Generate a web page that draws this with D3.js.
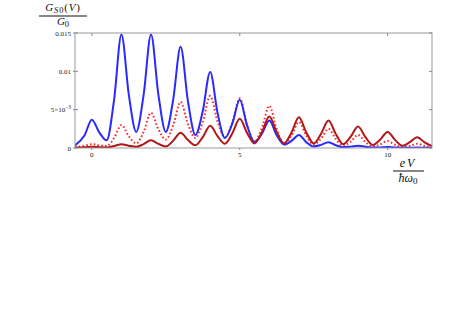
<!DOCTYPE html>
<html>
<head>
<meta charset="utf-8">
<script src="https://cdn.jsdelivr.net/npm/d3@7"></script>
<style>
  body { margin: 0; background: #fff; }
  svg { display: block; }
  text { font-family: "Liberation Serif", "DejaVu Serif", serif; }
</style>
</head>
<body>
<div id="chart"></div>
<script>
// sample positions along eV/ħω0
const xs = [-0.57, -0.25, 0, 0.25, 0.5, 0.75, 1, 1.25, 1.5, 1.75, 2, 2.25, 2.5, 2.75, 3, 3.25,
  3.5, 3.75, 4, 4.25, 4.5, 4.75, 5, 5.25, 5.5, 5.75, 6, 6.25, 6.5, 6.75, 7, 7.25,
  7.5, 7.75, 8, 8.25, 8.5, 8.75, 9, 9.25, 9.5, 9.75, 10, 10.25, 10.5, 10.75, 11, 11.25, 11.5];

// G_S0(V)/G0, in units of 1e-3
const blue = [0.35, 1.62, 3.7, 2.03, 1.0, 6.24, 14.8, 6.93, 2.1, 6.93, 14.8, 6.93, 2.1, 6.32, 13.2, 6.07,
  1.7, 4.82, 9.9, 4.57, 1.3, 3.2, 6.3, 2.89, 0.8, 1.86, 3.6, 1.65, 0.45, 0.93, 1.7, 0.77,
  0.2, 0.41, 0.75, 0.35, 0.1, 0.18, 0.3, 0.15, 0.05, 0.08, 0.12, 0.06, 0.03, 0.04, 0.05, 0.03, 0.02];

const redDotted = [0.15, 0.28, 0.5, 0.35, 0.25, 1.3, 3.0, 1.51, 0.6, 2.12, 4.6, 2.43, 1.1, 2.96, 6.0, 3.09,
  1.3, 3.39, 6.8, 3.45, 1.4, 3.34, 6.5, 3.0, 0.85, 2.62, 5.5, 2.43, 0.55, 1.63, 3.4, 1.57,
  0.45, 1.23, 2.5, 1.14, 0.3, 0.83, 1.7, 0.77, 0.2, 0.47, 0.9, 0.42, 0.12, 0.28, 0.55, 0.26, 0.08];

const darkRed = [0.05, 0.09, 0.15, 0.11, 0.08, 0.26, 0.5, 0.3, 0.15, 0.51, 1.0, 0.54, 0.2, 0.96, 2.0, 1.04,
  0.35, 1.42, 2.9, 1.54, 0.55, 1.92, 3.8, 1.94, 0.6, 2.07, 4.1, 2.07, 0.6, 2.03, 4.0, 2.03,
  0.6, 1.86, 3.6, 1.8, 0.5, 1.47, 2.8, 1.41, 0.4, 1.11, 2.1, 1.06, 0.3, 0.76, 1.4, 0.73, 0.25];

const xTicks = [0, 5, 10];
const yTicks = [0, 0.005, 0.01, 0.015];

const W = 469, H = 327;
const fLeft = 75, fRight = 432, fTop = 33, fBottom = 148;

const svg = d3.select("#chart").append("svg")
  .attr("width", W).attr("height", H);

const x = d3.scaleLinear().domain([-0.57, 11.5]).range([fLeft, fRight]);
const y = d3.scaleLinear().domain([0, 0.015]).range([fBottom, fTop]);

// clip so curves stay in the frame
svg.append("clipPath").attr("id", "clip")
  .append("rect").attr("x", fLeft).attr("y", fTop - 2)
  .attr("width", fRight - fLeft).attr("height", fBottom - fTop + 2);

const line = d3.line()
  .x((d, i) => x(xs[i]))
  .y(d => y(d * 1e-3))
  .curve(d3.curveMonotoneX);

const plot = svg.append("g").attr("clip-path", "url(#clip)");

plot.append("path").datum(redDotted)
  .attr("d", line).attr("fill", "none")
  .attr("stroke", "#ff2a2a").attr("stroke-width", 2)
  .attr("stroke-dasharray", "1.6,2.2");

plot.append("path").datum(blue)
  .attr("d", line).attr("fill", "none")
  .attr("stroke", "#2a2aff").attr("stroke-width", 2);

plot.append("path").datum(darkRed)
  .attr("d", line).attr("fill", "none")
  .attr("stroke", "#b01818").attr("stroke-width", 2);

// frame
svg.append("rect")
  .attr("x", fLeft).attr("y", fTop)
  .attr("width", fRight - fLeft).attr("height", fBottom - fTop)
  .attr("fill", "none").attr("stroke", "#999").attr("stroke-width", 1);

const tickCol = "#888";

// y ticks, both sides
yTicks.forEach(t => {
  svg.append("line").attr("x1", fLeft - 2).attr("x2", fLeft + 3)
    .attr("y1", y(t)).attr("y2", y(t)).attr("stroke", tickCol);
  svg.append("line").attr("x1", fRight - 3).attr("x2", fRight)
    .attr("y1", y(t)).attr("y2", y(t)).attr("stroke", tickCol);
});

// x ticks, top and bottom
xTicks.forEach(t => {
  svg.append("line").attr("x1", x(t)).attr("x2", x(t))
    .attr("y1", fBottom).attr("y2", fBottom + 2).attr("stroke", tickCol);
  svg.append("line").attr("x1", x(t)).attr("x2", x(t))
    .attr("y1", fTop).attr("y2", fTop + 3).attr("stroke", tickCol);
});

// y tick labels
const yLab = svg.append("g").attr("font-size", 7).attr("fill", "#222")
  .attr("text-anchor", "end");
yLab.append("text").attr("x", fLeft - 4).attr("y", y(0) + 2.5).text("0");
yLab.append("text").attr("x", fLeft - 4).attr("y", y(0.01) + 2.5).text("0.01");
yLab.append("text").attr("x", fLeft - 4).attr("y", y(0.015) + 2.5).text("0.015");
const fiveE = yLab.append("text").attr("x", fLeft - 4).attr("y", y(0.005) + 2.5);
fiveE.append("tspan").text("5×10");
fiveE.append("tspan").attr("dy", -3).attr("font-size", 5.5).text("−3");

// x tick labels
svg.append("g").attr("font-size", 7).attr("fill", "#222").attr("text-anchor", "middle")
  .selectAll("text").data(xTicks).join("text")
  .attr("x", d => x(d)).attr("y", fBottom + 9).text(d => d);

// y title: G_S0(V) / G_0
const yt = svg.append("g").attr("font-size", 11).attr("fill", "#111");
const num = yt.append("text").attr("x", 63).attr("y", 10.5).attr("text-anchor", "middle")
  .attr("letter-spacing", 0.8);
num.append("tspan").attr("font-style", "italic").text("G");
num.append("tspan").attr("dy", 2).attr("font-size", 8.5).attr("font-style", "italic").text("S");
num.append("tspan").attr("font-size", 8.5).text("0");
num.append("tspan").attr("dy", -2).text("(");
num.append("tspan").attr("font-style", "italic").text("V");
num.append("tspan").text(")");
yt.append("line").attr("x1", 39).attr("x2", 87).attr("y1", 16).attr("y2", 16)
  .attr("stroke", "#111").attr("stroke-width", 1);
const den = yt.append("text").attr("x", 63).attr("y", 25).attr("text-anchor", "middle");
den.append("tspan").attr("font-style", "italic").text("G");
den.append("tspan").attr("dy", 1.5).attr("font-size", 8.5).text("0");

// x title: eV / ħω0
const xt = svg.append("g").attr("font-size", 12).attr("fill", "#111");
xt.append("text").attr("x", 408).attr("y", 167).attr("text-anchor", "middle")
  .attr("font-style", "italic").attr("letter-spacing", 2).text("eV");
xt.append("line").attr("x1", 393).attr("x2", 424).attr("y1", 171).attr("y2", 171)
  .attr("stroke", "#111").attr("stroke-width", 1);
const xd = xt.append("text").attr("x", 408).attr("y", 182).attr("text-anchor", "middle");
xd.append("tspan").attr("font-style", "italic").text("ħω");
xd.append("tspan").attr("dy", 2).attr("font-size", 9).text("0");
</script>
</body>
</html>
